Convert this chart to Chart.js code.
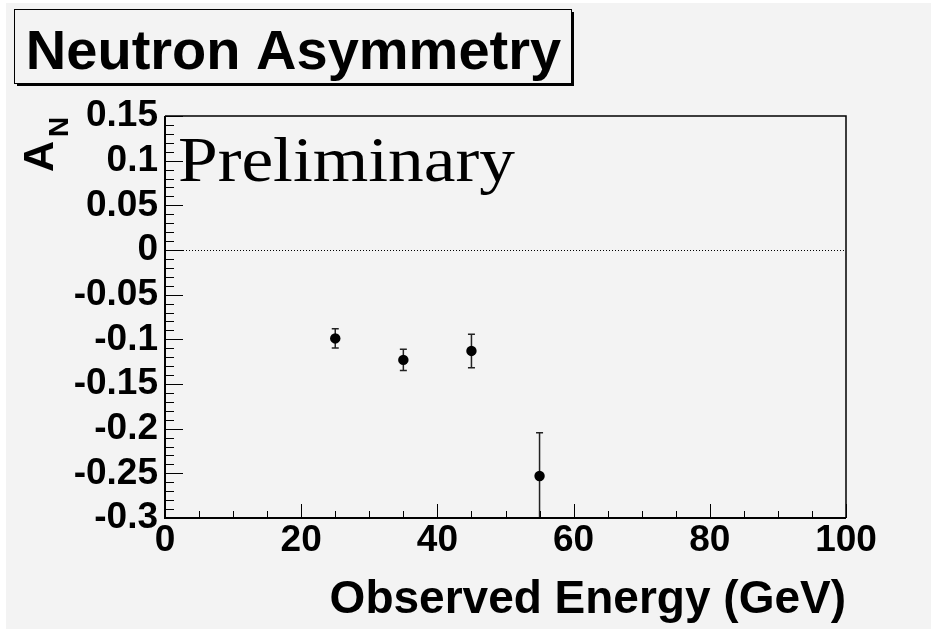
<!DOCTYPE html>
<html><head><meta charset="utf-8">
<script src="https://cdn.jsdelivr.net/npm/chart.js@4"></script>
<style>html,body{margin:0;padding:0;background:#fff;}canvas{display:block;}</style>
</head><body>
<canvas id="c" width="931" height="629"></canvas>
<script>
// ---- data ----
const energies   = [25, 35, 45, 55];
const asymmetry  = [-0.099, -0.123, -0.113, -0.253];
const asymErr    = [0.0108, 0.0118, 0.0187, 0.0483];
const xTickValues = [0, 20, 40, 60, 80, 100];
const xTickLabels = ['0', '20', '40', '60', '80', '100'];
const yTickValues = [-0.3, -0.25, -0.2, -0.15, -0.1, -0.05, 0, 0.05, 0.1, 0.15];
const yTickLabels = ['-0.3', '-0.25', '-0.2', '-0.15', '-0.1', '-0.05', '0', '0.05', '0.1', '0.15'];
const titleText = 'Neutron Asymmetry';
const xTitle = 'Observed Energy (GeV)';
const yTitleMain = 'A';
const yTitleSub = 'N';
const watermark = 'Preliminary';

const BG = '#f3f3f3';
const SANS = '"Liberation Sans", Arial, Helvetica, sans-serif';
const SERIF = '"Liberation Serif", "Times New Roman", serif';

const decor = {
  id: 'decor',
  beforeDraw(chart) {
    const ctx = chart.ctx;
    ctx.save();
    ctx.fillStyle = '#fff';
    ctx.fillRect(0, 0, chart.width, chart.height);
    ctx.fillStyle = BG;
    ctx.fillRect(6, 3, chart.width, chart.height);
    // title box with shadow
    ctx.fillStyle = '#000';
    ctx.fillRect(17, 12, 557, 74);
    ctx.fillStyle = BG;
    ctx.fillRect(14, 9, 557, 74);
    ctx.strokeStyle = '#000';
    ctx.lineWidth = 1;
    ctx.strokeRect(14.5, 9.5, 557, 74);
    ctx.fillStyle = '#000';
    ctx.font = 'bold 56px ' + SANS;
    ctx.textAlign = 'center';
    ctx.textBaseline = 'alphabetic';
    ctx.fillText(titleText, 293.5, 69);
    // y axis title A_N (rotated)
    ctx.save();
    ctx.translate(53, 172);
    ctx.rotate(-Math.PI / 2);
    ctx.textAlign = 'left';
    ctx.font = 'bold 43px ' + SANS;
    ctx.fillText(yTitleMain, 0, 0);
    const w = ctx.measureText(yTitleMain).width;
    ctx.font = 'bold 28px ' + SANS;
    ctx.fillText(yTitleSub, w + 4, 15);
    ctx.restore();
    ctx.restore();
  },
  beforeDatasetsDraw(chart) {
    const ctx = chart.ctx, xs = chart.scales.x, ys = chart.scales.y, a = chart.chartArea;
    ctx.save();
    // watermark
    ctx.save();
    ctx.fillStyle = '#000';
    ctx.font = '64px ' + SERIF;
    ctx.textAlign = 'left';
    ctx.textBaseline = 'alphabetic';
    ctx.translate(xs.getPixelForValue(1.9), ys.getPixelForValue(0.077));
    ctx.scale(1.115, 1);
    ctx.fillText(watermark, 0, 0);
    ctx.restore();
    // dotted zero line
    ctx.strokeStyle = '#000';
    ctx.lineWidth = 1;
    ctx.setLineDash([1, 2]);
    const y0 = Math.round(ys.getPixelForValue(0)) + 0.5;
    ctx.beginPath();
    ctx.moveTo(a.left, y0);
    ctx.lineTo(a.right, y0);
    ctx.stroke();
    ctx.setLineDash([]);
    // error bars
    ctx.beginPath();
    ctx.rect(a.left, a.top, a.right - a.left, a.bottom - a.top);
    ctx.clip();
    ctx.strokeStyle = '#222';
    ctx.lineWidth = 1.5;
    energies.forEach((e, i) => {
      const px = xs.getPixelForValue(e);
      const yt = ys.getPixelForValue(asymmetry[i] + asymErr[i]);
      const yb = ys.getPixelForValue(asymmetry[i] - asymErr[i]);
      ctx.beginPath();
      ctx.moveTo(px, yt); ctx.lineTo(px, yb);
      ctx.moveTo(px - 3.5, yt); ctx.lineTo(px + 3.5, yt);
      ctx.moveTo(px - 3.5, yb); ctx.lineTo(px + 3.5, yb);
      ctx.stroke();
    });
    ctx.restore();
  },
  afterDraw(chart) {
    const ctx = chart.ctx, xs = chart.scales.x, ys = chart.scales.y, a = chart.chartArea;
    ctx.save();
    ctx.strokeStyle = '#000';
    // ticks on y axis
    ctx.lineWidth = 1;
    ctx.beginPath();
    for (let k = 0; k <= 45; k++) {
      const v = -0.3 + k * 0.01;
      const py = Math.round(ys.getPixelForValue(v)) + 0.5;
      const len = (k % 5 === 0) ? 18 : 9;
      ctx.moveTo(a.left, py); ctx.lineTo(a.left + len, py);
    }
    for (let k = 0; k <= 20; k++) {
      const v = k * 5;
      const px = Math.round(xs.getPixelForValue(v)) + 0.5;
      const len = (k % 4 === 0) ? 14 : 7;
      ctx.moveTo(px, a.bottom); ctx.lineTo(px, a.bottom - len);
    }
    ctx.stroke();
    // frame
    ctx.lineWidth = 1.5;
    ctx.beginPath();
    ctx.moveTo(a.left, a.top); ctx.lineTo(a.right, a.top); ctx.lineTo(a.right, a.bottom);
    ctx.stroke();
    ctx.lineWidth = 2;
    ctx.beginPath();
    ctx.moveTo(a.left, a.top); ctx.lineTo(a.left, a.bottom); ctx.lineTo(a.right, a.bottom);
    ctx.stroke();
    ctx.restore();
  }
};

new Chart(document.getElementById('c'), {
  type: 'scatter',
  data: {
    datasets: [{
      data: energies.map((x, i) => ({ x: x, y: asymmetry[i] })),
      pointRadius: 5.2,
      pointBackgroundColor: '#000',
      pointBorderColor: '#000',
      pointBorderWidth: 0,
      showLine: false
    }]
  },
  options: {
    responsive: false,
    animation: false,
    devicePixelRatio: 1,
    layout: { padding: { top: 116, right: 85, left: 0, bottom: 0 } },
    plugins: { legend: { display: false }, tooltip: { enabled: false } },
    scales: {
      x: {
        type: 'linear', min: 0, max: 100,
        border: { display: false },
        grid: { display: false, drawTicks: false },
        afterBuildTicks: s => { s.ticks = xTickValues.map(v => ({ value: v })); },
        afterFit: s => { s.height = 111; },
        ticks: {
          color: '#000', padding: 1, maxRotation: 0, autoSkip: false,
          font: { family: SANS, weight: 'bold', size: 37 },
          callback: v => xTickLabels[xTickValues.findIndex(t => Math.abs(t - v) < 1e-9)]
        },
        title: {
          display: true, text: xTitle, align: 'end', color: '#000',
          font: { family: SANS, weight: 'bold', size: 46, lineHeight: 1 },
          padding: { top: 0, bottom: 6 }
        }
      },
      y: {
        type: 'linear', min: -0.3, max: 0.15,
        border: { display: false },
        grid: { display: false, drawTicks: false },
        afterBuildTicks: s => { s.ticks = yTickValues.map(v => ({ value: v })); },
        afterFit: s => { s.width = 165; },
        ticks: {
          color: '#000', padding: 7, autoSkip: false,
          font: { family: SANS, weight: 'bold', size: 37 },
          callback: v => yTickLabels[yTickValues.findIndex(t => Math.abs(t - v) < 1e-9)]
        }
      }
    }
  },
  plugins: [decor]
});
</script>
</body></html>
